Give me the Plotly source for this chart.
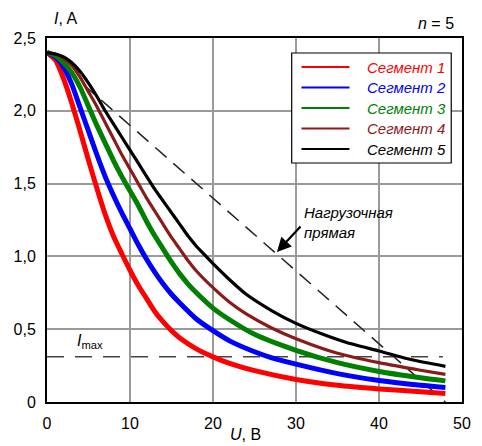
import plotly.graph_objects as go

# ---------------- data ----------------
seg_names = ["Сегмент 1", "Сегмент 2", "Сегмент 3", "Сегмент 4", "Сегмент 5"]
seg_colors = ["#FF0000", "#0000FF", "#008000", "#8B1A1A", "#000000"]

u1 = [0, 1, 2, 3, 4, 5, 6, 7, 8, 9, 10, 11, 12, 13, 14, 15, 16, 18, 20, 22, 25, 30, 35, 40, 45, 48]
i1 = [2.40, 2.35, 2.22, 2.05, 1.86, 1.66, 1.47, 1.29, 1.14, 1.02, 0.905, 0.80, 0.71, 0.62, 0.55, 0.49,
      0.44, 0.365, 0.31, 0.265, 0.215, 0.155, 0.115, 0.09, 0.07, 0.058]

u2 = [0, 1, 2, 3, 4, 5, 6, 7, 8, 9, 10, 11, 12, 13, 14, 15, 16, 18, 20, 22, 25, 27, 30, 35, 40, 45, 48]
i2 = [2.40, 2.37, 2.30, 2.18, 2.02, 1.86, 1.70, 1.55, 1.42, 1.30, 1.19, 1.08, 0.98, 0.89, 0.81, 0.74,
      0.68, 0.57, 0.49, 0.42, 0.345, 0.305, 0.26, 0.195, 0.148, 0.115, 0.10]

u3 = [0, 1, 2, 3, 4, 5, 6, 7, 8, 9, 10, 11, 12, 13, 14, 15, 16, 17, 18, 20, 22, 25, 30, 35, 40, 45, 48]
i3 = [2.40, 2.38, 2.33, 2.26, 2.16, 2.03, 1.90, 1.78, 1.66, 1.55, 1.45, 1.35, 1.24, 1.14, 1.05, 0.96,
      0.88, 0.81, 0.75, 0.645, 0.565, 0.465, 0.355, 0.27, 0.21, 0.167, 0.145]

u4 = [0, 1, 2, 3, 4, 5, 6, 7, 8, 9, 10, 11, 12, 13, 14, 15, 16, 17, 18, 20, 22, 24, 27, 30, 35, 40, 45, 48]
i4 = [2.40, 2.39, 2.36, 2.31, 2.23, 2.13, 2.03, 1.92, 1.81, 1.70, 1.60, 1.50, 1.40, 1.31, 1.22, 1.13,
      1.05, 0.97, 0.90, 0.785, 0.685, 0.605, 0.51, 0.435, 0.335, 0.27, 0.218, 0.19]

u5 = [0, 1, 2, 3, 4, 5, 6, 7, 8, 9, 10, 11, 12, 13, 14, 15, 16, 17, 18, 19, 20, 22, 24, 27, 30, 33,
      36, 40, 44, 48]
i5 = [2.40, 2.39, 2.37, 2.33, 2.27, 2.19, 2.10, 2.00, 1.91, 1.82, 1.73, 1.64, 1.55, 1.46, 1.38, 1.30,
      1.22, 1.14, 1.07, 1.01, 0.95, 0.84, 0.74, 0.63, 0.54, 0.47, 0.41, 0.35, 0.29, 0.245]

seg_u = [u1, u2, u3, u4, u5]
seg_i = [i1, i2, i3, i4, i5]
seg_widths = [5, 5, 5, 3.2, 3.2]

load_u = [0, 48]          # load line endpoints
load_i = [2.4, 0]
imax_u = [0, 47.7]        # I max level
imax_i = [0.31, 0.31]

x_ticks = [0, 10, 20, 30, 40, 50]
x_ticktext = ["0", "10", "20", "30", "40", "50"]
y_ticks = [0, 0.5, 1.0, 1.5, 2.0, 2.5]
y_ticktext = ["0", "0,5", "1,0", "1,5", "2,0", "2,5"]

FONT = "Liberation Sans, Arial, sans-serif"

fig = go.Figure()

fig.add_trace(go.Scatter(x=load_u, y=load_i, mode="lines", showlegend=False, hoverinfo="skip",
                         line=dict(color="#222222", width=1.5, dash="15px,9px")))
fig.add_trace(go.Scatter(x=imax_u, y=imax_i, mode="lines", showlegend=False, hoverinfo="skip",
                         line=dict(color="#444444", width=1.5, dash="17px,11px")))

for name, col, u, i, w in zip(seg_names, seg_colors, seg_u, seg_i, seg_widths):
    fig.add_trace(go.Scatter(x=u, y=i, mode="lines", name=name, showlegend=False,
                             line=dict(color=col, width=w, shape="spline", smoothing=0.6)))

# plot area in pixels: x 47..471, y 38..402
L, R, T, B = 47, 471, 38, 402
W, H = R - L, B - T


def px(xp):
    return (xp - L) / W


def py(yp):
    return (B - yp) / H


shapes = []
annotations = []

# custom legend box
shapes.append(dict(type="rect", xref="paper", yref="paper", x0=px(297), x1=px(460), y0=py(163), y1=py(53),
                   line=dict(color="black", width=1.2), fillcolor="white", layer="above"))
rows = [67, 87.5, 108, 128.5, 149]
for name, col, ry in zip(seg_names, seg_colors, rows):
    shapes.append(dict(type="line", xref="paper", yref="paper", x0=px(307), x1=px(356), y0=py(ry), y1=py(ry),
                       line=dict(color=col, width=2), layer="above"))
    annotations.append(dict(xref="paper", yref="paper", x=px(372), y=py(ry), xanchor="left", yanchor="middle",
                            text="<i>" + name + "</i>", showarrow=False,
                            font=dict(family=FONT, size=15, color=col)))

annotations += [
    dict(xref="paper", yref="paper", x=px(52), y=py(19), xanchor="left", yanchor="middle",
         text="<i>I</i>, A", showarrow=False, font=dict(family=FONT, size=16, color="black")),
    dict(xref="paper", yref="paper", x=px(465), y=py(24), xanchor="right", yanchor="middle",
         text="<i>n</i> = 5", showarrow=False, font=dict(family=FONT, size=16, color="black")),
    dict(xref="paper", yref="paper", x=px(232), y=py(435), xanchor="left", yanchor="middle",
         text="<i>U</i>, B", showarrow=False, font=dict(family=FONT, size=16, color="black")),
    dict(xref="paper", yref="paper", x=px(76), y=py(341), xanchor="left", yanchor="middle",
         text="<i>I</i><sub>max</sub>", showarrow=False, font=dict(family=FONT, size=16, color="black")),
    dict(xref="paper", yref="paper", x=px(308), y=py(222), xanchor="left", yanchor="middle",
         text="<i>Нагрузочная<br>прямая</i>", align="left", showarrow=False,
         font=dict(family=FONT, size=15, color="black")),
    dict(xref="x", yref="y", x=27.7, y=1.03, ax=25, ay=-27, text="", showarrow=True,
         arrowhead=2, arrowsize=1.3, arrowwidth=2.2, arrowcolor="black"),
]

fig.update_layout(
    width=482, height=446,
    margin=dict(l=L, r=482 - R, t=T, b=446 - B),
    paper_bgcolor="white", plot_bgcolor="white",
    font=dict(family=FONT, size=16, color="black"),
    shapes=shapes, annotations=annotations,
    xaxis=dict(range=[0, 50], tickvals=x_ticks, ticktext=x_ticktext, showgrid=True,
               gridcolor="#9a9a9a", gridwidth=1.5, showline=True, linecolor="black", linewidth=2,
               mirror=True, ticks="", zeroline=False, ticklabelstandoff=6,
               tickfont=dict(family=FONT, size=16, color="black")),
    yaxis=dict(range=[0, 2.5], tickvals=y_ticks, ticktext=y_ticktext, showgrid=True,
               gridcolor="#9a9a9a", gridwidth=1.5, showline=True, linecolor="black", linewidth=2,
               mirror=True, ticks="", zeroline=False, ticklabelstandoff=6,
               tickfont=dict(family=FONT, size=16, color="black")),
)

fig.write_html("out.html", config={"displayModeBar": False},
               post_script="document.body.style.margin='0px';document.body.style.padding='0px';")
